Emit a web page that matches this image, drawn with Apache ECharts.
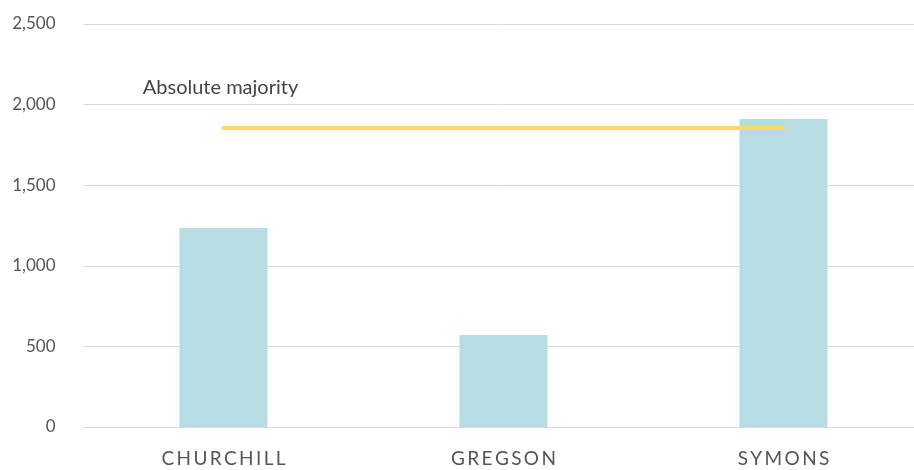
<!DOCTYPE html>
<html><head><meta charset="utf-8">
<script src="https://cdn.jsdelivr.net/npm/echarts@6/dist/echarts.min.js"></script>
<style>html,body{margin:0;padding:0;background:#fff}#c{width:914px;height:470px}</style>
</head><body><div id="c"></div>
<script>
const categories = ['CHURCHILL', 'GREGSON', 'SYMONS'];
const votes = [1234, 571, 1911];
const majority = [1855, 1855, 1855];
const majorityLabel = 'Absolute majority';
const yTicks = {min: 0, max: 2500, interval: 500};

const chart = echarts.init(document.getElementById('c'), null, {renderer: 'canvas'});
chart.setOption({
  animation: false,
  grid: {left: 83.5, right: -9.5, top: 24, bottom: 43, containLabel: false, outerBoundsMode: 'none'},
  xAxis: {
    type: 'category', data: categories,
    axisLine: {show: true, lineStyle: {color: '#d9d9d9', width: 1}},
    axisTick: {show: false},
    axisLabel: {color: '#555', fontFamily: 'Lato', fontSize: 19, margin: 22,
      formatter: v => v.split('').join('\u2009')}
  },
  yAxis: {
    type: 'value', min: yTicks.min, max: yTicks.max, interval: yTicks.interval,
    axisLine: {show: false}, axisTick: {show: false},
    splitLine: {lineStyle: {color: '#d9d9d9', width: 1}},
    axisLabel: {color: '#555', fontFamily: 'Lato', fontSize: 17, margin: 28,
      formatter: v => v.toLocaleString('en-US')}
  },
  series: [
    {type: 'bar', data: votes, barWidth: 88, itemStyle: {color: '#b7dce4'}},
    {type: 'line', data: majority, symbol: 'none',
      lineStyle: {color: '#fcd86a', width: 4, cap: 'round'},
      label: {show: false},
      markPoint: {
        symbol: 'circle', symbolSize: 0,
        data: [{coord: [0, majority[0]], value: majorityLabel}],
        label: {show: true, position: 'top', distance: 30, color: '#444',
          fontFamily: 'Lato', fontSize: 20, offset: [-3, 0], formatter: majorityLabel}
      }
    }
  ]
});
</script></body></html>
